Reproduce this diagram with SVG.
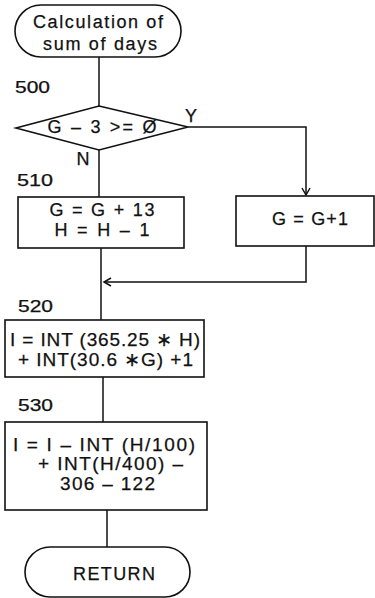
<svg xmlns="http://www.w3.org/2000/svg" width="375" height="598" viewBox="0 0 375 598">
<defs>
<style>
.s{fill:#fff;stroke:#111;stroke-width:1.6}
.c{fill:none;stroke:#111;stroke-width:1.5}
text{font-family:"Liberation Sans","DejaVu Sans",Arial,sans-serif;fill:#111;stroke:#111;stroke-width:0.25;font-size:18px}
.m{text-anchor:middle}
.l{font-size:16px}
.b{font-size:19px}
</style>
<marker id="ah" markerWidth="12" markerHeight="12" refX="10" refY="6" orient="auto" markerUnits="userSpaceOnUse">
<path d="M3,2 L10,6 L3,10" fill="none" stroke="#111" stroke-width="1.5"/>
</marker>
</defs>
<rect width="375" height="598" fill="#fff"/>
<g id="connectors">
<path class="c" d="M99,57 V106"/>
<path class="c" d="M99,150 V197"/>
<path class="c" d="M188,127 H306 V195" marker-end="url(#ah)"/>
<path class="c" d="M101,248 V320"/>
<path class="c" d="M306,246 V282 H104" marker-end="url(#ah)"/>
<path class="c" d="M103,377 V422"/>
<path class="c" d="M107,510 V547"/>
</g>
<g id="start">
<rect class="s" x="15" y="5" width="166" height="52" rx="26"/>
<text class="m" x="98" y="28" textLength="130" lengthAdjust="spacing">Calculation of</text>
<text class="m" x="100" y="50" textLength="114" lengthAdjust="spacing">sum of days</text>
</g>
<g id="n500">
<text class="l" x="15" y="93" textLength="35" lengthAdjust="spacingAndGlyphs">500</text>
<polygon class="s" points="99,106 188,127 99,150 16,128"/>
<text class="m" x="102" y="133" textLength="109" lengthAdjust="spacing">G – 3 &gt;= Ø</text>
<text class="m" x="191" y="122">Y</text>
<text class="m" x="83" y="165" font-size="17">N</text>
</g>
<g id="n510">
<text class="l" x="17" y="186" textLength="36" lengthAdjust="spacingAndGlyphs">510</text>
<rect class="s" x="18" y="197" width="166" height="51"/>
<text class="m" x="102" y="216" textLength="105" lengthAdjust="spacing">G = G + 13</text>
<text class="m" x="102" y="236" textLength="95" lengthAdjust="spacing">H = H – 1</text>
</g>
<g id="n510y">
<rect class="s" x="236" y="196" width="138" height="50"/>
<text class="m" x="310" y="225" textLength="76" lengthAdjust="spacing">G = G+1</text>
</g>
<g id="n520">
<text class="l" x="18" y="312" textLength="35" lengthAdjust="spacingAndGlyphs">520</text>
<rect class="s" x="5" y="320" width="199" height="57"/>
<text class="b" x="10" y="346" textLength="190" lengthAdjust="spacing">I = INT (365.25 ∗ H)</text>
<text class="b" x="18" y="366" textLength="175" lengthAdjust="spacing">+ INT(30.6 ∗G) +1</text>
</g>
<g id="n530">
<text class="l" x="18" y="411" textLength="35" lengthAdjust="spacingAndGlyphs">530</text>
<rect class="s" x="5" y="422" width="202" height="88"/>
<text class="b" x="13" y="451" textLength="182" lengthAdjust="spacing">I = I – INT (H/100)</text>
<text class="b" x="38" y="470" textLength="145" lengthAdjust="spacing">+ INT(H/400) –</text>
<text class="b" x="60" y="490" textLength="95" lengthAdjust="spacing">306 – 122</text>
</g>
<g id="return">
<rect class="s" x="25" y="547" width="165" height="50" rx="25"/>
<text class="m" x="114" y="580" textLength="82" lengthAdjust="spacing">RETURN</text>
</g>
</svg>
